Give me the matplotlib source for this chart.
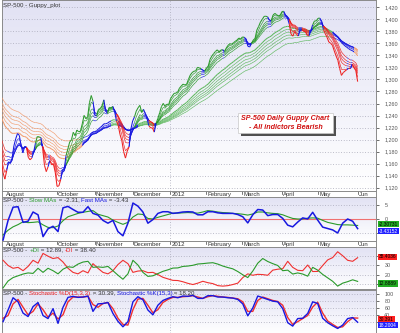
import numpy as np
import pandas as pd
import matplotlib
matplotlib.use("Agg")
import matplotlib.pyplot as plt
from matplotlib.collections import LineCollection
from matplotlib.patches import Rectangle
import matplotlib.transforms as mtransforms

plt.rcParams['font.family'] = ['Liberation Sans', 'DejaVu Sans']

# S&P 500 daily closes, May 2011 .. 1 Jun 2012 (EMAs need the warm-up months)
may11 = [1361.2, 1356.6, 1347.3, 1335.1, 1340.2, 1346.3, 1357.2, 1342.1, 1348.7, 1337.8, 1329.5,
         1329.0, 1340.7, 1343.6, 1333.3, 1317.4, 1316.3, 1320.5, 1325.7, 1331.1, 1345.2]
jun11 = [1314.6, 1312.9, 1300.2, 1286.2, 1284.9, 1279.6, 1289.0, 1271.0, 1271.8, 1287.9, 1265.4,
         1267.6, 1271.5, 1278.4, 1295.5, 1287.1, 1283.5, 1268.5, 1280.1, 1296.7, 1307.4, 1320.6]
jul11 = [1339.7, 1337.9, 1339.2, 1353.2, 1343.8, 1319.5, 1313.6, 1317.7, 1308.9, 1316.1, 1305.4,
         1326.7, 1325.8, 1343.8, 1345.0, 1337.4, 1331.9, 1304.9, 1300.7, 1292.3]
aug11 = [1286.9, 1254.1, 1260.3, 1200.1, 1199.4, 1119.5, 1172.5, 1120.8, 1172.6, 1178.8, 1204.5,
         1192.8, 1193.9, 1140.7, 1123.5, 1123.8, 1162.4, 1177.6, 1159.3, 1176.8, 1210.1, 1212.9, 1218.9]
sep11 = [1204.4, 1174.0, 1165.2, 1198.6, 1185.9, 1154.2, 1162.3, 1172.9, 1188.7, 1209.1, 1216.0,
         1204.1, 1202.1, 1166.8, 1129.6, 1136.4, 1163.0, 1175.4, 1151.1, 1160.4, 1131.4]
oct11 = [1099.2, 1124.0, 1144.0, 1165.0, 1155.5, 1194.9, 1195.5, 1207.3, 1203.7, 1224.6, 1200.9,
         1225.4, 1209.9, 1215.4, 1238.3, 1254.2, 1229.1, 1242.0, 1284.6, 1285.1, 1253.3]
nov11 = [1218.3, 1237.9, 1261.2, 1253.2, 1261.1, 1275.9, 1229.1, 1239.7, 1263.9, 1251.8, 1257.8,
         1236.9, 1216.1, 1215.7, 1193.0, 1188.0, 1161.8, 1158.7, 1192.6, 1195.2, 1247.0]
dec11 = [1244.6, 1244.3, 1257.1, 1258.5, 1261.0, 1234.4, 1255.2, 1236.5, 1225.7, 1211.8, 1215.8,
         1219.7, 1205.4, 1241.3, 1243.7, 1254.0, 1265.3, 1265.4, 1249.6, 1263.0, 1257.6]
jan12 = [1277.1, 1277.3, 1281.1, 1277.8, 1280.7, 1292.1, 1292.5, 1295.5, 1289.1, 1293.7, 1308.0,
         1314.5, 1315.4, 1316.0, 1314.7, 1326.1, 1318.4, 1316.3, 1313.0, 1312.4]
feb12 = [1324.1, 1325.5, 1344.9, 1344.3, 1347.1, 1350.0, 1352.0, 1342.6, 1351.8, 1350.5, 1343.2,
         1358.0, 1361.2, 1362.2, 1357.7, 1363.5, 1365.7, 1367.6, 1372.2, 1365.7]
mar12 = [1374.1, 1369.6, 1364.3, 1343.4, 1352.6, 1365.9, 1370.9, 1371.1, 1396.0, 1394.3, 1402.6,
         1404.2, 1409.8, 1405.5, 1402.9, 1392.8, 1397.1, 1416.5, 1412.5, 1405.5, 1403.3, 1408.5]
apr12 = [1419.0, 1413.4, 1399.0, 1398.1, 1382.2, 1358.6, 1368.7, 1387.6, 1370.3, 1369.6, 1390.8,
         1385.1, 1376.9, 1378.5, 1366.9, 1372.0, 1390.7, 1400.0, 1403.4, 1397.9]
may12 = [1405.8, 1402.3, 1391.6, 1369.1, 1369.6, 1363.7, 1354.6, 1358.0, 1353.4, 1338.4, 1330.7,
         1324.8, 1304.9, 1295.2, 1316.0, 1316.6, 1318.9, 1320.7, 1317.8, 1332.4, 1313.3, 1310.3]
jun12 = [1278.0]

months = [may11, jun11, jul11, aug11, sep11, oct11, nov11, dec11, jan12, feb12, mar12, apr12, may12, jun12]
month_names = [None, None, None, "August", None, "October", "November", "December", "2012",
               "February", "March", "April", "May", "Jun"]
first_shown = len(may11) + len(jun11) + len(jul11) + 14   # 19 Aug 2011

short_periods = [3, 5, 8, 10, 12, 15]
long_periods = [30, 35, 40, 45, 50, 60]

# lower panels on an even grid from 19 Aug to 1 Jun
slow_mas = [-5.7, -4, -2.8, -2, -1, -1.3, -1.2, -1, -2.1, -3, -3.1, -2.5, -0.6, 0.8, 1.4, 2, 2.4, 2.7,
            3, 1.7, 1.2, 0.7, -0.4, -1.2, -1.9, -1.2, 0.7, 1.8, 1.6, 0.2, 0, 0.6, 1.1, 1.6, 2.1, 2.1,
            2.2, 2.3, 2.2, 2.1, 2.5, 3, 2.8, 2.5, 2.3, 2.2, 2, 1.9, 1.7, 1.4, 1.8, 2.5, 2.5, 2.2, 2,
            1.9, 1.5, 0.8, 0.2, 0, 0, 0.3, 0.4, 0.3, -0.5, -1.2, -1.6, -2, -2.1, -2.1, -2.2, -2.31]
fast_mas = [-7.5, -0.5, 4.2, 4.4, -1.2, -0.8, 2.5, 1.5, -6.3, -3.5, -2.6, -4.5, 4, 4.5, 3.4, 2.4, 2.4,
            4.4, 2, 1.4, -0.5, -1.5, -0.5, -4.5, -6, -1.5, 5.7, 4.6, 2.5, -1.5, -0.2, 2, 2.6, 2.6, 2,
            2.2, 2.5, 2.6, 2.5, 1.5, 1.5, 2.6, 2.6, 2.2, 2, 2, 2, 1.6, 0.8, -1.4, 1.5, 3.4, 3.2, 1.2,
            1.6, 1.6, 0.2, -2.2, -2.8, -1.1, 0.4, 0, 2.4, -0.4, -2.9, -3.4, -3.9, -5, -1.5, 0, -0.8, -3.43]
plus_di = [5.9, 13.3, 17, 18.9, 20.8, 22, 21.5, 27, 22.6, 27, 24.4, 21, 26, 28.6, 28, 31.5, 33.7, 34.5,
           28, 28.5, 28, 29, 24.4, 19.6, 15.2, 21, 35.6, 30.5, 22.6, 18.3, 18.9, 21.3, 23.7, 25.3,
           27.2, 27.4, 29, 29.4, 30.2, 31.6, 32, 32.6, 33, 31.5, 29.4, 27.8, 26.4, 23.5, 20, 17, 24,
           32.5, 37.5, 34.3, 32, 30, 24.4, 25, 20.8, 22, 20.8, 18.5, 28, 25, 20.4, 16.7, 13, 7.8, 11,
           12.6, 14.6, 12.89]
minus_di = [35.6, 30, 27, 28, 24.4, 29, 35.6, 32.5, 43, 40, 37.5, 38.5, 33.7, 27, 22.6, 21, 24.4, 22,
            32, 27, 22.6, 21, 24.4, 31, 35.6, 32, 22.6, 24, 24.4, 22.3, 22.6, 20.2, 17.3, 15.6, 14,
            13.8, 12.5, 10.8, 9.5, 11, 13, 11.5, 10.5, 8.3, 7.8, 8.3, 9.5, 11, 17, 21, 19.5, 20.5,
            20.2, 19.5, 25, 26, 26.5, 34.5, 28, 24.8, 24.4, 30.5, 23.5, 23.6, 30, 36, 38.5, 44.8,
            40.5, 35.6, 34.5, 38.4]
stoch_k = [20, 54, 90, 78, 45, 35, 64, 76, 38, 29, 58, 15, 62, 91, 94, 91, 92, 95, 50, 72, 73, 76, 44,
           21, 5, 20, 78, 93, 84, 54, 40, 68, 82, 88, 93, 90, 95, 94, 97, 88, 88, 96, 96, 92, 92, 90,
           89, 85, 72, 37, 60, 95, 90, 85, 80, 78, 58, 17, 7, 29, 30, 44, 78, 73, 30, 17, 8, 0, 10,
           29, 32, 18.2]
stoch_d = [30, 38, 72, 85, 62, 40, 50, 72, 55, 33, 45, 28, 40, 78, 92, 92, 92, 94, 70, 62, 73, 76, 58,
           30, 12, 10, 55, 86, 88, 68, 46, 55, 76, 85, 91, 91, 93, 94, 96, 92, 88, 93, 96, 94, 92, 91,
           89, 87, 78, 50, 50, 82, 92, 87, 82, 79, 68, 32, 12, 20, 29, 38, 63, 77, 45, 22, 12, 3, 5,
           20, 31, 30.4]

# colours
C_GREEN_S, C_RED_S, C_BLUE = "#2a9a2a", "#ee2020", "#1818e0"
C_GREEN_L, C_ORANGE_L = "#5cb85c", "#f29a6a"
GRID = "#a8a8b8"
TXT = "#333333"


def px(x0, y0, x1, y1):
    return [x0 / 400, 1 - y1 / 333, (x1 - x0) / 400, (y1 - y0) / 333]


def gradient(ax):
    g = np.linspace(0, 1, 64).reshape(-1, 1)
    cm = matplotlib.colors.LinearSegmentedColormap.from_list("bg", ["#ffffff", "#e2e2f4"])
    ax.imshow(g, cmap=cm, aspect="auto", extent=(0, 1, 1, 0), transform=ax.transAxes, zorder=0)


def style(ax, ylim, ticks, labels):
    gradient(ax)
    ax.set_xlim(-0.6, 207.2)
    ax.set_ylim(*ylim)
    for s in ax.spines.values():
        s.set_color("#8a8a8a")
        s.set_linewidth(0.7)
    ax.set_xticks([])
    ax.yaxis.tick_right()
    ax.set_yticks(ticks)
    ax.set_yticklabels(labels)
    ax.tick_params(axis="y", length=2, width=0.6, colors="#555555", labelsize=3.9, pad=4)
    for t in ticks:
        ax.axhline(t, color=GRID, lw=0.6, ls=(0, (1, 2.2)), zorder=1)
    ax.axvline(jan_idx, color=GRID, lw=0.6, ls=(0, (1, 2.2)), zorder=1)


def title(ax, parts):
    prev = ax.text(0.004, 0.985, parts[0][0], color=parts[0][1], fontsize=4.4,
                   transform=ax.transAxes, va="top", ha="left", zorder=6)
    for txt, col in parts[1:]:
        prev = ax.annotate(txt, xy=(1, 0), xycoords=prev, va="bottom", ha="left",
                           color=col, fontsize=4.4, zorder=6)


def tag(ax, y, text, fc, tc):
    tr = mtransforms.blended_transform_factory(ax.transAxes, ax.transData)
    ax.text(1.008, y, text, transform=tr, fontsize=3.5, color=tc, va="center", ha="left",
            bbox=dict(boxstyle="square,pad=0.15", fc=fc, ec="none"), clip_on=False, zorder=7)


# month boundaries in shown-day index
starts = np.cumsum([0] + [len(m) for m in months])[:-1] - first_shown
jan_idx = starts[8]

price = pd.Series(sum(months, []))
t_all = np.arange(len(price)) - first_shown
keep = t_all >= -1


def group(periods):
    return np.array([price.ewm(span=p, adjust=False).mean().values for p in periods])


def group_state(emas):
    d = np.diff(emas, axis=0)
    return np.where((d < 0).all(axis=0), 1, np.where((d > 0).all(axis=0), -1, 0))


fig = plt.figure(figsize=(4, 3.33), dpi=100)

# ---- main Guppy panel
ax = fig.add_axes(px(2, 0, 376, 191))
style(ax, (1114.6, 1432.1), list(range(1120, 1421, 20)), [f"{v:,}" for v in range(1120, 1421, 20)])
for periods, cols in [(long_periods, {1: C_GREEN_L, -1: C_ORANGE_L, 0: C_BLUE}),
                      (short_periods, {1: C_GREEN_S, -1: C_RED_S, 0: C_BLUE})]:
    emas = group(periods)
    st = group_state(emas)
    t = t_all[keep]
    s = st[keep]
    for k, e in enumerate(emas):
        e = e[keep]
        pts = np.column_stack([t, e])
        segs = np.stack([pts[:-1], pts[1:]], axis=1)
        lw = 0.75 if k == 0 else 0.45
        lc = LineCollection(segs, colors=[cols[v] for v in s[1:]], linewidths=lw, zorder=3)
        ax.add_collection(lc)
title(ax, [("SP-500 - Guppy_plot", TXT)])

# note box with drop shadow
bx0, bx1, by0, by1 = 0.631, 0.885, 0.304, 0.408
ax.add_patch(Rectangle((bx0 + 0.008, by0 - 0.016), bx1 - bx0, by1 - by0, transform=ax.transAxes,
                       fc="#505050", ec="none", zorder=7))
ax.add_patch(Rectangle((bx0, by0), bx1 - bx0, by1 - by0, transform=ax.transAxes,
                       fc="white", ec="#c8c8c8", lw=0.5, zorder=8))
ax.text((bx0 + bx1) / 2, (by0 + by1) / 2, "SP-500 Daily Guppy Chart\n- All indictors Bearish",
        color="#d01010", fontsize=5.1, fontweight="bold", fontstyle="italic", ha="center",
        va="center", transform=ax.transAxes, linespacing=1.3, zorder=9)


def date_strip(rect):
    a = fig.add_axes(rect)
    a.set_xlim(-0.6, 207.2)
    a.set_ylim(0, 1)
    a.set_xticks([])
    a.set_yticks([])
    for s in a.spines.values():
        s.set_color("#8a8a8a")
        s.set_linewidth(0.7)
    a.text(1.5, 0.45, "August", fontsize=4.3, color=TXT, va="center", ha="left")
    for i, name in enumerate(month_names):
        if name is None or name == "August":
            continue
        a.plot([starts[i], starts[i]], [1, 0.55], color="#444444", lw=0.5)
        a.text(starts[i] + 0.6, 0.45, name, fontsize=4.3, color=TXT, va="center", ha="left")


date_strip(px(2, 191, 376, 197))

days = np.linspace(0, 197, len(fast_mas))

# ---- Slow / Fast MAs
ax2 = fig.add_axes(px(2, 197, 376, 241))
style(ax2, (-7.86, 7.86), [-5, 0, 5], ["", "0", "5"])
ax2.axhline(0, color="#f07070", lw=0.8, zorder=2)
ax2.plot(days, slow_mas, color=C_GREEN_S, lw=0.8, zorder=3)
ax2.plot(days, fast_mas, color=C_BLUE, lw=1.1, zorder=4)
title(ax2, [("SP-500 - ", TXT), ("Slow MAs", C_GREEN_S), (" = -2.31, ", TXT),
            ("Fast MAs", C_BLUE), (" = -3.43", TXT)])
tag(ax2, -1.8, "-2.30731", "#22aa22", "black")
tag(ax2, -4.3, "-3.43152", "#2020ff", "white")

date_strip(px(2, 241, 376, 247))

# ---- DI
ax3 = fig.add_axes(px(2, 247, 376, 289))
style(ax3, (4.7, 49.9), [10, 20, 30, 40], ["", "20", "30", ""])
ax3.plot(days, minus_di, color="#f03030", lw=0.8, zorder=3)
ax3.plot(days, plus_di, color="#2a9a2a", lw=0.8, zorder=3)
title(ax3, [("SP-500 - ", TXT), ("+DI", C_GREEN_S), (" = 12.89, ", TXT),
            ("-DI", C_RED_S), (" = 38.40", TXT)])
tag(ax3, 39.3, "38.4036", "#ff2020", "black")
tag(ax3, 10.7, "12.8889", "#22aa22", "black")

# ---- Stochastic
ax4 = fig.add_axes(px(2, 290, 376, 333))
style(ax4, (-13.2, 112.6), [20, 40, 60, 80, 100], ["", "40", "60", "80", "100"])
ax4.plot(days, stoch_d, color="#f03030", lw=1.0, zorder=3)
ax4.plot(days, stoch_k, color=C_BLUE, lw=1.0, zorder=4)
title(ax4, [("SP-500 - ", TXT), ("Stochastic %D(15,3,3)", C_RED_S), (" = 30.39, ", TXT),
            ("Stochastic %K(15,3)", C_BLUE), (" = 18.20", TXT)])
tag(ax4, 27, "30.391", "#ff2020", "black")
tag(ax4, 9.5, "18.2004", "#2020ff", "white")

fig.savefig("out.png", dpi=100)
